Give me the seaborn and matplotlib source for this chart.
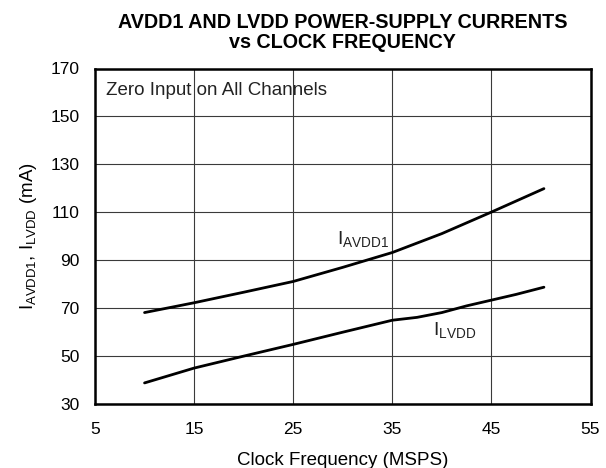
import matplotlib
matplotlib.use("Agg")
import matplotlib.pyplot as plt
import seaborn as sns
import pandas as pd

# Supply current versus clock frequency (MSPS -> mA)
avdd1_freq = [10, 15, 20, 25, 30, 35, 40, 45, 50.3]
avdd1_ma = [68.0, 72.1, 76.5, 81.0, 86.9, 93.1, 101.0, 110.0, 119.8]

lvdd_freq = [10, 15, 20, 25, 30, 35, 37.5, 40, 42.5, 45, 47.5, 50.3]
lvdd_ma = [38.6, 44.8, 49.8, 54.7, 59.8, 64.8, 66.0, 68.0, 70.8, 73.2, 75.6, 78.6]

x_ticks = [5, 15, 25, 35, 45, 55]
y_ticks = [30, 50, 70, 90, 110, 130, 150, 170]

sns.set_theme(style="white")
plt.rcParams["font.family"] = ["Liberation Sans", "DejaVu Sans"]
plt.rcParams["mathtext.default"] = "regular"

df = pd.concat([
    pd.DataFrame({"freq": avdd1_freq, "current": avdd1_ma, "rail": "AVDD1"}),
    pd.DataFrame({"freq": lvdd_freq, "current": lvdd_ma, "rail": "LVDD"}),
], ignore_index=True)

fig = plt.figure(figsize=(6.06, 4.68), dpi=100)
ax = fig.add_axes([95 / 606, 1 - 403.5 / 468, (590.5 - 95) / 606, (403.5 - 68.5) / 468])

sns.lineplot(data=df, x="freq", y="current", hue="rail",
             palette={"AVDD1": "black", "LVDD": "black"},
             linewidth=2.0, legend=False, ax=ax, zorder=3)

ax.set_xlim(5, 55)
ax.set_ylim(30, 170)
ax.set_xticks(x_ticks)
ax.set_yticks(y_ticks)
ax.set_xticklabels([str(v) for v in x_ticks])
ax.set_yticklabels([str(v) for v in y_ticks])
ax.tick_params(axis="both", length=0, labelsize=12.5, colors="black")
ax.tick_params(axis="x", pad=13)
ax.tick_params(axis="y", pad=11)
ax.grid(True, color="#3a3a3a", linewidth=0.8)
for s in ax.spines.values():
    s.set_visible(True)
    s.set_color("black")
    s.set_linewidth(1.8)

ax.set_xlabel("Clock Frequency (MSPS)", fontsize=13.5, labelpad=11, color="black")
ax.set_ylabel("I$_{AVDD1}$, I$_{LVDD}$ (mA)", fontsize=13.5, labelpad=8, color="black")

ax.set_title("AVDD1 AND LVDD POWER-SUPPLY CURRENTS\nvs CLOCK FREQUENCY",
             fontsize=14.2, fontweight="bold", pad=15, linespacing=1.05, color="black")

ax.text(6.15, 159.1, "Zero Input on All Channels", fontsize=13.5, va="baseline", ha="left",
        color="#222222")
ax.text(29.4, 96.6, "I$_{AVDD1}$", fontsize=14, va="baseline", ha="left", color="#222222")
ax.text(39.1, 58.5, "I$_{LVDD}$", fontsize=14, va="baseline", ha="left", color="#222222")

fig.savefig("out.png", dpi=100)
